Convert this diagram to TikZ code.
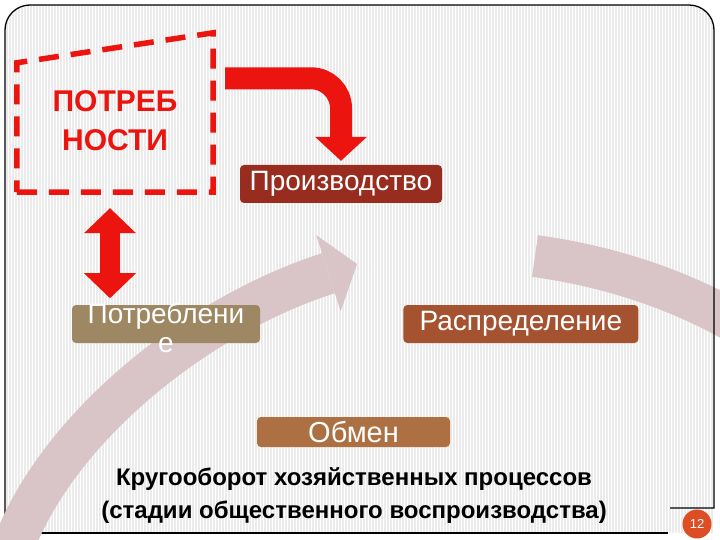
\documentclass[tikz,border=0pt]{standalone}
\usepackage{fontspec}
\setmainfont{Liberation Sans}
\usetikzlibrary{arrows.meta,positioning,calc}

\definecolor{arrowred}{RGB}{236,20,14}
\definecolor{bandgray}{RGB}{217,197,200}
\definecolor{prodred}{RGB}{152,44,30}
\definecolor{potrtan}{RGB}{158,136,100}
\definecolor{raspbrown}{RGB}{164,82,48}
\definecolor{obmenbrown}{RGB}{172,112,66}
\definecolor{pagered}{RGB}{222,78,36}

\begin{document}
\begin{tikzpicture}[x=1pt, y=-1pt]
\tikzstyle{stage} = [rectangle, rounded corners=4pt, text=white, inner sep=0pt, font=\fontsize{28}{29}\selectfont, minimum height=38pt]
\tikzstyle{redband} = [draw=arrowred, line width=22pt]
\tikzstyle{cycleband} = [draw=bandgray, line width=42pt]
\tikzstyle{stripe} = [draw=black!8, line width=1.2pt]

\useasboundingbox (0,0) rectangle (720,540);
\fill[white] (0,0) rectangle (720,540);

% background stripes inside the frame
\begin{scope}
\clip (5,533) -- (5,30) arc[start angle=180, end angle=270, radius=25] -- (689,5) arc[start angle=270, end angle=360, radius=25] -- (714,533) -- cycle;
\foreach \x in {7,10,...,712}
  \draw[stripe] (\x,5) -- (\x,533);
\end{scope}

% right part of the cycle
\draw[cycleband] (535,256) .. controls (600,265) and (670,285) .. (735,322);

% frame
\draw[line width=1.3pt] (5,533) -- (5,30) arc[start angle=180, end angle=270, radius=25] -- (689,5) arc[start angle=270, end angle=360, radius=25] -- (714,508) -- (670,508);
\draw[line width=1.3pt] (5,533) -- (668,533);

% left part of the cycle
\draw[cycleband, -{Triangle[length=30pt 0 0, width=80pt 0 0, line width=0pt]}] (12,550) .. controls (55,430) and (195,316) .. (357,264);

% nodes
\node[font=\fontsize{30}{39}\selectfont\bfseries, text=arrowred, align=center, minimum width=196pt, minimum height=142pt] (needs) at (115,121) {ПОТРЕБ\\НОСТИ};
\node[stage, fill=prodred, minimum width=202pt] (prod) at (341,184) {Производство};
\node[stage, fill=potrtan, minimum width=188pt] (potr) at (166,324) {};
\node[text=white, align=center, inner sep=0pt, font=\fontsize{28}{29}\selectfont] (potrtext) at (166,328) {Потреблени\\е};
\node[stage, fill=raspbrown, minimum width=235pt, right=143pt of potr] (rasp) {Распределение};
\node[stage, fill=obmenbrown, minimum width=193pt, minimum height=30pt, font=\fontsize{29}{29}\selectfont] (obmen) at (353.5,432) {Обмен};
\node[align=center, font=\fontsize{24}{33}\selectfont\bfseries] (caption) at (354,496) {Кругооборот хозяйственных процессов\\(стадии общественного воспроизводства)};
\node[circle, fill=pagered, minimum size=29pt, inner sep=0pt, text=white, font=\fontsize{13}{13}\selectfont] (pagenum) at (697,524) {12};

% dashed box round the needs
\draw[draw=arrowred, line width=5.5pt, dash pattern=on 20pt off 12pt] (needs.south west) -- (needs.south east) -- ($(needs.north east)+(0,-17)$) -- ($(needs.north west)+(0,13)$) -- cycle;

% arrows
\draw[redband, rounded corners=30pt, -{Triangle[length=24pt 0 0, width=52pt 0 0, line width=0pt]}] ($(needs.north east)+(12,28.5)$) -| ($(prod.north)+(0,-4)$);
\draw[redband, line width=20pt, {Triangle[length=25pt 0 0, width=52pt 0 0, line width=0pt]}-{Triangle[length=25pt 0 0, width=52pt 0 0, line width=0pt]}] ($(needs.south)+(-5,16)$) -- ($(needs.south)+(-5,106)$);
\end{tikzpicture}
\end{document}
